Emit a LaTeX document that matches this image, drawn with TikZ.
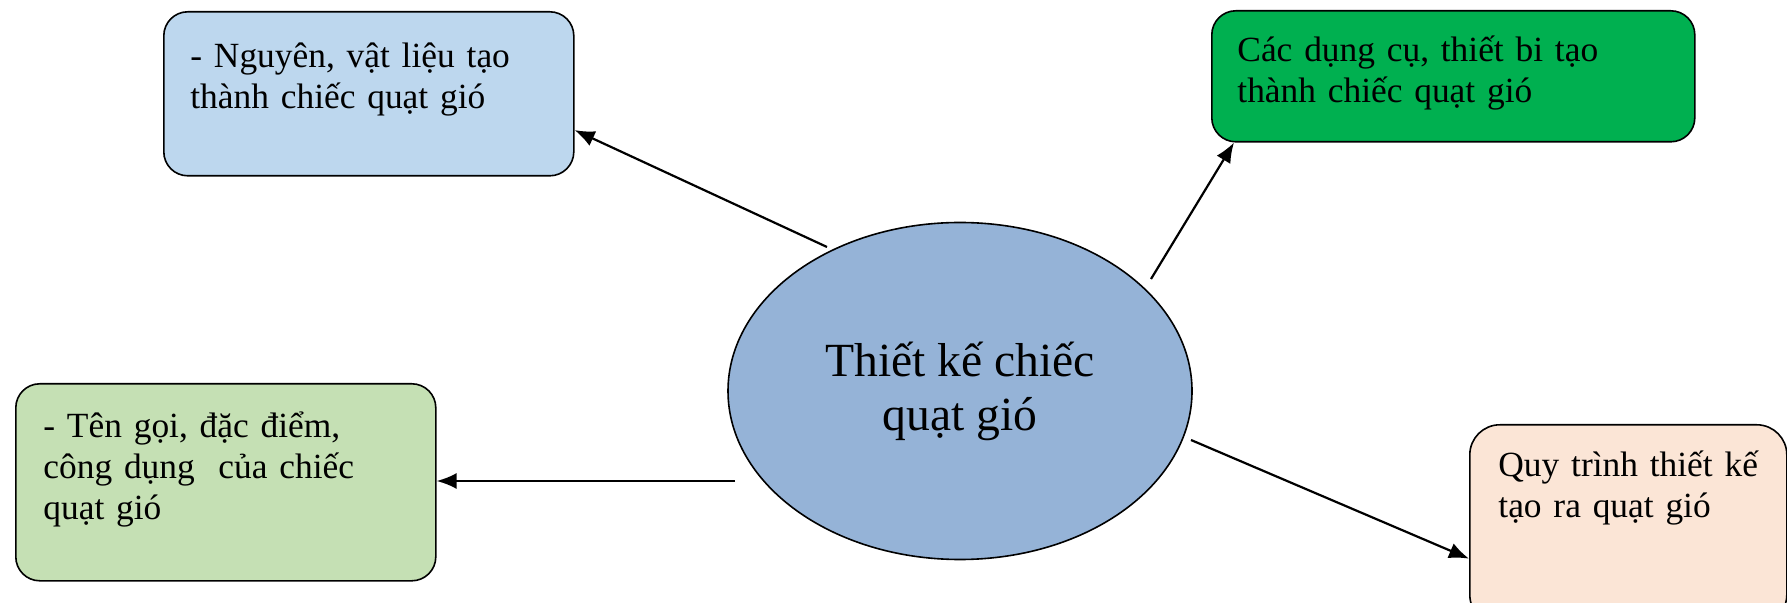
\documentclass[tikz,border=0pt]{standalone}
\usepackage{fontspec}
\usepackage{xcolor}
\setmainfont{Liberation Serif}
\usetikzlibrary{arrows.meta,shapes.geometric}
\lineskiplimit=-\maxdimen

\definecolor{boxblue}{HTML}{BDD7EE}
\definecolor{boxgreen}{HTML}{00B050}
\definecolor{boxlime}{HTML}{C5E0B4}
\definecolor{boxpeach}{HTML}{FBE5D6}
\definecolor{ellblue}{HTML}{95B3D7}

\tikzset{
  box/.style={draw, line width=0.8pt, rounded corners=12pt, anchor=north west, inner sep=0pt},
  boxtext/.style={anchor=base west, inner sep=0pt, text width=#1, align=left,
    font=\fontsize{17.7}{20.25}\selectfont},
  link/.style={-{Latex[length=10pt,width=8pt]}, line width=1.1pt},
}

\begin{document}
\begin{tikzpicture}[x=0.5pt,y=-0.5pt]
  \useasboundingbox (0,0) rectangle (1787,603);

  % centre
  \node[ellipse, draw, line width=0.8pt, fill=ellblue, inner sep=0pt,
    minimum width=232pt, minimum height=168.5pt, align=center,
    font=\fontsize{23.8}{27}\selectfont] (ell) at (960,391) {Thiết kế chiếc\\quạt gió};

  % boxes
  \node[box, fill=boxblue, minimum width=205pt, minimum height=82pt] (b1) at (163,11) {};
  \node[box, fill=boxgreen, minimum width=241.5pt, minimum height=65.5pt] (b2) at (1211,10) {};
  \node[box, fill=boxlime, minimum width=210pt, minimum height=98.5pt] (b3) at (15,383) {};
  \node[box, fill=boxpeach, minimum width=158.5pt, minimum height=100pt, rounded corners=15pt] (b4) at (1469,424) {};

  \node[boxtext=185pt] (t1) at ([shift={(27,57)}]b1.north west) {- Nguyên, vật liệu tạo\\thành chiếc quạt gió};
  \node[boxtext=215pt] (t2) at ([shift={(26,52)}]b2.north west) {Các dụng cụ, thiết bi tạo\\thành chiếc quạt gió};
  \node[boxtext=185pt] (t3) at ([shift={(28,55)}]b3.north west) {- Tên gọi, đặc điểm,\\công dụng~ của chiếc\\quạt gió};
  \node[boxtext=150pt] (t4) at ([shift={(29,53)}]b4.north west) {Quy trình thiết kế\\tạo ra quạt gió};

  % arrows
  \coordinate (s1) at (827,247);
  \coordinate (s2) at (1151,279);
  \coordinate (s3) at (735,481);
  \coordinate (s4) at (1191,440);
  \draw[link] (s1) -- (b1.-10.8);
  \draw[link] (s2) -- ([xshift=11.5pt]b2.south west);
  \draw[link] (s3) -- (s3 -| b3.east);
  \draw[link] (s4) -- (b4.192);
\end{tikzpicture}
\end{document}
